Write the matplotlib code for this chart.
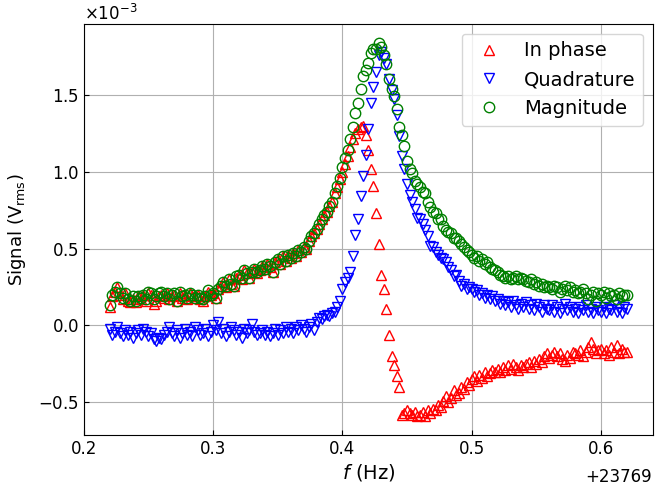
import numpy as np
import matplotlib
matplotlib.use("Agg")
from matplotlib import pyplot as plt
from matplotlib.ticker import ScalarFormatter, FuncFormatter, MultipleLocator

# lock-in sweep, 201 points, 2 mHz steps above 23769 Hz
f_base = 23769.0
f_offset = np.linspace(0.22, 0.62, 201)

# signals in mV (rms)
in_phase = [
  0.12, 0.19, 0.22, 0.25, 0.20, 0.17, 0.21, 0.16, 0.15, 0.17,
  0.15, 0.19, 0.17, 0.20, 0.16, 0.21, 0.20, 0.14, 0.16, 0.19,
  0.20, 0.18, 0.21, 0.17, 0.19, 0.20, 0.16, 0.21, 0.18, 0.20,
  0.17, 0.21, 0.19, 0.18, 0.20, 0.17, 0.16, 0.19, 0.22, 0.20,
  0.21, 0.18, 0.24, 0.26, 0.28, 0.25, 0.30, 0.27, 0.26, 0.31,
  0.33, 0.30, 0.36, 0.34, 0.31, 0.35, 0.37, 0.34, 0.36, 0.39,
  0.37, 0.40, 0.38, 0.35, 0.41, 0.43, 0.40, 0.45, 0.42, 0.46,
  0.44, 0.47, 0.45, 0.49, 0.48, 0.51, 0.50, 0.55, 0.58, 0.60,
  0.63, 0.66, 0.69, 0.72, 0.74, 0.78, 0.80, 0.86, 0.90, 0.95,
  1.00, 1.05, 1.10, 1.16, 1.21, 1.25, 1.28, 1.29, 1.30, 1.24,
  1.14, 1.02, 0.91, 0.73, 0.53, 0.33, 0.24, 0.11, -0.06, -0.20,
  -0.26, -0.33, -0.40, -0.58, -0.57, -0.55, -0.57, -0.58, -0.56, -0.59,
  -0.58, -0.56, -0.59, -0.55, -0.57, -0.54, -0.55, -0.52, -0.53, -0.49,
  -0.46, -0.50, -0.47, -0.42, -0.45, -0.44, -0.40, -0.41, -0.37, -0.39,
  -0.35, -0.33, -0.36, -0.32, -0.34, -0.30, -0.33, -0.31, -0.29, -0.30,
  -0.28, -0.30, -0.27, -0.29, -0.26, -0.28, -0.25, -0.27, -0.29, -0.26,
  -0.27, -0.25, -0.24, -0.27, -0.23, -0.25, -0.22, -0.24, -0.20, -0.18,
  -0.21, -0.19, -0.17, -0.20, -0.18, -0.22, -0.23, -0.19, -0.21, -0.17,
  -0.18, -0.19, -0.16, -0.20, -0.17, -0.14, -0.11, -0.15, -0.18, -0.16,
  -0.15, -0.18, -0.16, -0.19, -0.14, -0.17, -0.13, -0.18, -0.15, -0.17,
  -0.17]

quadrature = [
  -0.02, -0.06, -0.04, -0.01, -0.05, -0.07, -0.03, -0.06, -0.04, -0.08,
  -0.05, -0.03, -0.06, -0.02, -0.04, -0.07, -0.05, -0.09, -0.10, -0.08,
  -0.09, -0.06, -0.04, -0.01, -0.05, -0.07, -0.03, -0.08, -0.05, -0.02,
  -0.06, -0.04, -0.07, -0.01, -0.03, -0.06, -0.05, -0.02, -0.07, -0.04,
  0.00, -0.03, 0.02, -0.05, -0.02, -0.07, -0.04, -0.01, -0.03, -0.06,
  -0.04, -0.08, -0.02, -0.05, -0.03, 0.01, -0.04, -0.06, -0.05, -0.03,
  -0.06, -0.04, -0.07, -0.05, -0.02, -0.06, -0.03, -0.05, -0.01, -0.04,
  -0.02, -0.05, -0.01, -0.03, 0.00, -0.02, -0.04, -0.01, 0.01, -0.03,
  0.02, 0.05, 0.04, 0.06, 0.07, 0.06, 0.08, 0.09, 0.12, 0.16,
  0.24, 0.28, 0.31, 0.35, 0.45, 0.59, 0.69, 0.84, 0.97, 1.11,
  1.28, 1.45, 1.55, 1.65, 1.76, 1.78, 1.74, 1.70, 1.60, 1.53,
  1.47, 1.37, 1.23, 1.10, 1.02, 0.92, 0.85, 0.80, 0.76, 0.70,
  0.69, 0.66, 0.62, 0.58, 0.52, 0.51, 0.48, 0.46, 0.44, 0.43,
  0.41, 0.38, 0.36, 0.32, 0.33, 0.29, 0.26, 0.27, 0.24, 0.25,
  0.24, 0.22, 0.23, 0.20, 0.21, 0.18, 0.20, 0.17, 0.19, 0.16,
  0.17, 0.14, 0.16, 0.13, 0.15, 0.12, 0.16, 0.13, 0.11, 0.14,
  0.12, 0.15, 0.11, 0.13, 0.10, 0.14, 0.12, 0.09, 0.13, 0.11,
  0.10, 0.13, 0.09, 0.12, 0.08, 0.11, 0.14, 0.10, 0.12, 0.09,
  0.11, 0.08, 0.12, 0.10, 0.13, 0.09, 0.11, 0.08, 0.12, 0.10,
  0.09, 0.12, 0.08, 0.11, 0.10, 0.13, 0.09, 0.11, 0.08, 0.12,
  0.11]

magnitude = [
  0.13, 0.20, 0.22, 0.25, 0.21, 0.18, 0.21, 0.17, 0.16, 0.19,
  0.16, 0.19, 0.18, 0.20, 0.17, 0.22, 0.21, 0.17, 0.19, 0.21,
  0.22, 0.19, 0.21, 0.17, 0.20, 0.21, 0.16, 0.22, 0.19, 0.20,
  0.18, 0.21, 0.20, 0.18, 0.20, 0.18, 0.17, 0.19, 0.23, 0.20,
  0.21, 0.18, 0.24, 0.26, 0.28, 0.26, 0.30, 0.27, 0.26, 0.32,
  0.33, 0.31, 0.36, 0.34, 0.31, 0.35, 0.37, 0.35, 0.36, 0.39,
  0.37, 0.40, 0.39, 0.35, 0.41, 0.43, 0.40, 0.45, 0.42, 0.46,
  0.44, 0.47, 0.45, 0.49, 0.48, 0.51, 0.50, 0.55, 0.58, 0.60,
  0.63, 0.66, 0.69, 0.72, 0.74, 0.78, 0.80, 0.86, 0.91, 0.96,
  1.03, 1.09, 1.14, 1.21, 1.29, 1.38, 1.45, 1.54, 1.62, 1.66,
  1.71, 1.77, 1.80, 1.80, 1.84, 1.81, 1.76, 1.70, 1.60, 1.54,
  1.49, 1.41, 1.29, 1.24, 1.17, 1.07, 1.02, 0.99, 0.94, 0.92,
  0.90, 0.87, 0.86, 0.80, 0.77, 0.74, 0.73, 0.69, 0.69, 0.65,
  0.62, 0.61, 0.60, 0.57, 0.57, 0.55, 0.53, 0.51, 0.49, 0.48,
  0.46, 0.44, 0.45, 0.42, 0.43, 0.40, 0.41, 0.38, 0.37, 0.36,
  0.35, 0.33, 0.32, 0.31, 0.32, 0.30, 0.31, 0.32, 0.30, 0.31,
  0.30, 0.29, 0.28, 0.30, 0.27, 0.28, 0.26, 0.27, 0.25, 0.26,
  0.25, 0.24, 0.26, 0.25, 0.22, 0.24, 0.26, 0.23, 0.25, 0.22,
  0.23, 0.21, 0.22, 0.24, 0.21, 0.17, 0.20, 0.22, 0.16, 0.21,
  0.20, 0.22, 0.18, 0.21, 0.19, 0.20, 0.17, 0.21, 0.19, 0.20,
  0.20]

f = f_base + f_offset
mv = 1e-3

fig = plt.figure(figsize=(6.6, 4.87), dpi=100)
ax = fig.add_axes([0.127, 0.107, 0.862, 0.844])
ms = 7.5
ax.plot(f, np.array(in_phase)*mv, '^', color='r', mfc='none', ms=ms, label='In phase')
ax.plot(f, np.array(quadrature)*mv, 'v', color='b', mfc='none', ms=ms, label='Quadrature')
ax.plot(f, np.array(magnitude)*mv, 'o', color='g', mfc='none', ms=ms, label='Magnitude')

fmt = ScalarFormatter(useMathText=True)
fmt.set_powerlimits((-2, 3))
ax.yaxis.set_major_formatter(fmt)
# x ticks relative to f_base, offset shown separately
ax.xaxis.set_major_locator(MultipleLocator(0.1))
ax.xaxis.set_major_formatter(FuncFormatter(lambda v, p: '%.1f' % (v - f_base)))
fig.text(652/660, 1 - 468/487, '+%d' % f_base, ha='right', va='top', fontsize=12)

ax.tick_params(direction='in', labelsize=12)
ax.yaxis.get_offset_text().set_fontsize(12)
ax.grid(True)
ax.set_xlabel('$f$ (Hz)', fontsize=14, labelpad=3)
ax.set_ylabel(r'Signal (V$_{\rm rms}$)', fontsize=13, labelpad=7)
ax.legend(loc='upper right', fontsize=14)

fig.savefig('out.png', dpi=100)
